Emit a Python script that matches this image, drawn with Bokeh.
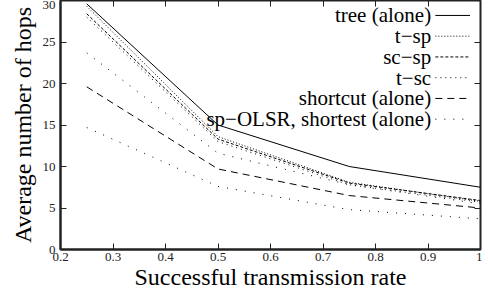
from bokeh.plotting import figure
from bokeh.models import Range1d, FixedTicker, LinearAxis, Label
from bokeh.embed import file_html
from bokeh.resources import INLINE

# ---- data ----
rate = [0.25, 0.5, 0.75, 1.0]
tree_alone = [29.6, 15.0, 10.0, 7.5]
t_sp = [29.3, 13.6, 8.1, 5.8]
sc_sp = [28.4, 13.3, 8.0, 5.9]
t_sc = [28.0, 13.0, 7.8, 5.7]
shortcut_alone = [19.6, 9.7, 6.5, 5.0]
sp_olsr = [23.7, 11.6, 7.8, 5.5]
shortest_alone = [14.7, 7.6, 4.8, 3.7]

x_ticks = [0.2, 0.3, 0.4, 0.5, 0.6, 0.7, 0.8, 0.9, 1.0]
y_ticks = [0, 5, 10, 15, 20, 25, 30]
legend_labels = ["tree (alone)", "t\u2212sp", "sc\u2212sp", "t\u2212sc",
                 "shortcut (alone)", "sp\u2212OLSR, shortest (alone)"]

FONT = "Liberation Serif"

dashes = ["solid", "1 2", "3 2", "1 4", "7 5", "1 8"]
series = [
    (tree_alone, 0),
    (t_sp, 1),
    (sc_sp, 2),
    (t_sc, 3),
    (shortcut_alone, 4),
    (sp_olsr, 5),
    (shortest_alone, 5),
]

p = figure(width=482, height=296, output_backend="svg", toolbar_location=None,
           x_range=Range1d(0.2, 1.0), y_range=Range1d(0, 30))
p.min_border_left = 60
p.min_border_right = 2
p.min_border_top = 0
p.min_border_bottom = 47
p.background_fill_color = "white"
p.border_fill_color = "white"
p.outline_line_color = "#222222"
p.outline_line_width = 2
p.grid.visible = False

for ax in p.xaxis + p.yaxis:
    ax.axis_line_color = "#222222"
    ax.axis_line_width = 2
    ax.major_tick_in = 6
    ax.major_tick_out = 0
    ax.minor_tick_line_color = None
    ax.major_tick_line_color = "#222222"
    ax.major_label_text_font = FONT
    ax.major_label_text_font_size = "13px"
    ax.major_label_text_color = "#222222"
    ax.axis_label_text_font = FONT
    ax.axis_label_text_font_size = "24px"
    ax.axis_label_text_font_style = "normal"
    ax.axis_label_text_color = "black"

p.xaxis.ticker = FixedTicker(ticks=x_ticks)
p.yaxis.ticker = FixedTicker(ticks=y_ticks)
p.xaxis.major_label_overrides = {1: "1"}
p.xaxis.axis_label = "Successful transmission rate"
p.yaxis.axis_label = "Average number of hops"
p.xaxis.major_label_standoff = 3
p.yaxis.major_label_standoff = 5
p.xaxis.axis_label_standoff = 0
p.yaxis.axis_label_standoff = 4

# mirrored tick axes (ticks only)
top = LinearAxis(ticker=FixedTicker(ticks=x_ticks),
                 major_label_overrides={t: "" for t in x_ticks},
                 axis_line_color=None, major_tick_in=6, major_tick_out=0,
                 minor_tick_line_color=None, major_label_standoff=0,
                 major_tick_line_color="#222222")
right = LinearAxis(ticker=FixedTicker(ticks=y_ticks),
                   major_label_overrides={t: "" for t in y_ticks},
                   axis_line_color=None, major_tick_in=6, major_tick_out=0,
                   minor_tick_line_color=None, major_label_standoff=0,
                   major_tick_line_color="#222222")
p.add_layout(top, "above")
p.add_layout(right, "right")

for ys, li in series:
    p.line(rate, ys, line_color="black", line_width=1, line_dash=dashes[li])

# legend (label on the left, sample on the right), top right corner
lx_text = 0.906
lx0, lx1 = 0.914, 0.98
ly0, lstep = 28.2, 2.5
for i, lab in enumerate(legend_labels):
    yy = ly0 - i * lstep
    p.add_layout(Label(x=lx_text, y=yy, text=lab, text_align="right",
                       text_baseline="middle", text_font=FONT,
                       text_font_size="21px", text_color="black"))
    p.segment(x0=[lx0], y0=[yy], x1=[lx1], y1=[yy], line_color="black",
              line_width=1, line_dash=dashes[i])

open("out.html", "w").write(file_html(p, INLINE))
